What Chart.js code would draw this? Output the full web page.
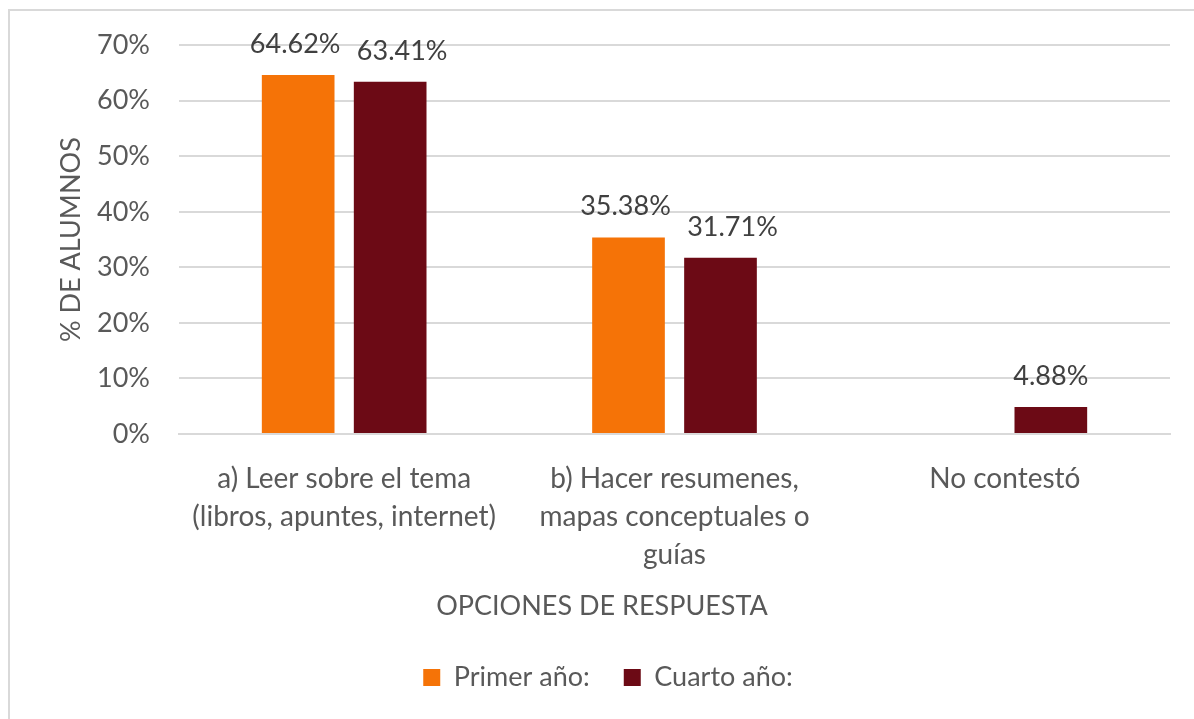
<!DOCTYPE html>
<html>
<head>
<meta charset="utf-8">
<script src="https://cdn.jsdelivr.net/npm/chart.js@4.4.1/dist/chart.umd.min.js"></script>
<style>
  html, body { margin: 0; padding: 0; background: #fff; overflow: hidden; }
  #frame { position: absolute; left: 8px; top: 9px; width: 2000px; height: 2000px;
           border-left: 2px solid #d9d9d9; border-top: 2px solid #d9d9d9; box-sizing: border-box; }
  #wrap { position: absolute; left: 0; top: 0; width: 1194px; height: 719px; }
</style>
</head>
<body>
<div id="frame"></div>
<div id="wrap"><canvas id="c" width="1194" height="719"></canvas></div>
<script>
const categories = [
  ["a) Leer sobre el tema", "(libros, apuntes, internet)"],
  ["b) Hacer resumenes,", "mapas conceptuales o", "guías"],
  "No contestó"
];
const seriesNames = ["Primer año:", "Cuarto año:"];
const primerAno = [64.62, 35.38, null];
const cuartoAno = [63.41, 31.71, 4.88];
const yTicks = [0, 10, 20, 30, 40, 50, 60, 70];
const xAxisTitle = "OPCIONES DE RESPUESTA";
const yAxisTitle = "% DE ALUMNOS";

const FONT = "Lato";
const TXT = "#595959";

const valueLabels = {
  id: 'valueLabels',
  afterDatasetsDraw(chart) {
    const ctx = chart.ctx;
    ctx.save();
    ctx.font = `27px ${FONT}`;
    ctx.fillStyle = "#404040";
    ctx.textAlign = "center";
    ctx.textBaseline = "middle";
    const sets = chart.data.datasets;
    sets.forEach((ds, di) => {
      const meta = chart.getDatasetMeta(di);
      meta.data.forEach((bar, i) => {
        const v = ds.data[i];
        if (v === null || v === undefined) return;
        const paired = sets.every(s => s.data[i] !== null && s.data[i] !== undefined);
        const dx = paired ? (di === 0 ? -3 : 12) : 0;
        ctx.fillText(v.toFixed(2) + "%", bar.x + dx, bar.y - 31);
      });
    });
    ctx.restore();
  }
};

const xTitle = {
  id: 'xTitle',
  afterDraw(chart) {
    const ctx = chart.ctx;
    ctx.save();
    ctx.font = `27px ${FONT}`;
    ctx.fillStyle = TXT;
    ctx.textAlign = "center";
    ctx.textBaseline = "middle";
    ctx.fillText(xAxisTitle, 602, 606);
    ctx.restore();
  }
};

new Chart(document.getElementById('c'), {
  type: 'bar',
  data: {
    labels: categories,
    datasets: [
      { label: seriesNames[0], data: primerAno, backgroundColor: "#F57307",
        categoryPercentage: 0.557, barPercentage: 0.79 },
      { label: seriesNames[1], data: cuartoAno, backgroundColor: "#6C0A15",
        categoryPercentage: 0.557, barPercentage: 0.79 }
    ]
  },
  options: {
    responsive: false,
    animation: false,
    layout: { padding: { left: 46, right: 24, top: 45, bottom: 18 } },
    plugins: {
      tooltip: { enabled: false },
      legend: {
        position: 'bottom',
        labels: {
          font: { family: FONT, size: 27 },
          color: TXT,
          boxWidth: 17,
          boxHeight: 17,
          padding: 34
        }
      }
    },
    scales: {
      x: {
        afterFit(s) { s.height = 196; },
        grid: { display: false },
        border: { display: true, color: "#d9d9d9", width: 2 },
        ticks: {
          font: { family: FONT, size: 28, lineHeight: 1.357 },
          color: TXT,
          padding: 18,
          maxRotation: 0,
          minRotation: 0,
          autoSkip: false
        }
      },
      y: {
        min: 0,
        max: 70,
        afterFit(s) { s.width = 133; },
        afterBuildTicks(s) { s.ticks = yTicks.map(v => ({ value: v })); },
        grid: { color: "#d9d9d9", lineWidth: 2, drawTicks: false },
        border: { display: false },
        ticks: {
          font: { family: FONT, size: 27 },
          color: TXT,
          padding: 29,
          callback: v => v + "%"
        },
        title: {
          display: true,
          text: yAxisTitle,
          font: { family: FONT, size: 27 },
          color: TXT,
          padding: { top: 9, bottom: 0 }
        }
      }
    }
  },
  plugins: [valueLabels, xTitle]
});
</script>
</body>
</html>
